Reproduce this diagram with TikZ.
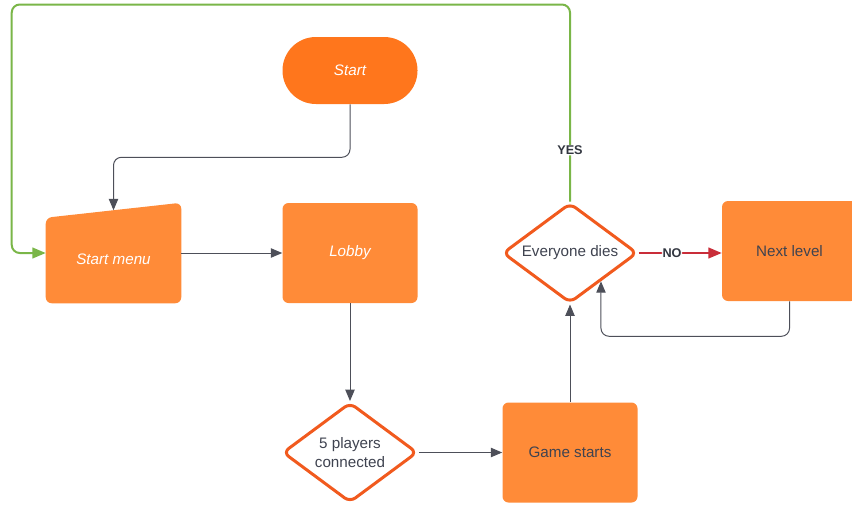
\documentclass[tikz,border=0pt]{standalone}
\usepackage{fontspec}
\setmainfont{Liberation Sans}
\usetikzlibrary{arrows.meta,shapes.geometric,calc}
\definecolor{startorange}{HTML}{FF761C}
\definecolor{boxorange}{HTML}{FF8B38}
\definecolor{diamondorange}{HTML}{F15A1E}
\definecolor{textgray}{HTML}{3F4350}
\definecolor{linegray}{HTML}{4D4F59}
\definecolor{yesgreen}{HTML}{7AB648}
\definecolor{nored}{HTML}{C92D39}

\begin{document}
\begin{tikzpicture}[x=0.75pt,y=-0.75pt,
                    every node/.style={font=\fontsize{11.4}{13.7}\selectfont, align=center},
                    terminal/.style={rectangle, fill=startorange, rounded corners=25pt,
                        minimum width=101.25pt, minimum height=50.25pt, text=white,
                        font=\fontsize{11.4}{13.7}\selectfont\itshape},
                    process/.style={rectangle, fill=boxorange, rounded corners=4.5pt,
                        minimum width=101.25pt, minimum height=75pt, text=textgray},
                    whitebox/.style={process, text=white, font=\fontsize{11.4}{13.7}\selectfont\itshape},
                    menubox/.style={rectangle, inner sep=0pt, minimum width=101.25pt, minimum height=75pt},
                    decision/.style={diamond, shape aspect=1.35, draw=diamondorange, line width=2.25pt,
                        fill=white, rounded corners=5pt, inner sep=0pt,
                        minimum width=101pt, minimum height=75pt, text=textgray},
                    flow/.style={draw=linegray, line width=0.75pt, rounded corners=6pt,
                        -{Triangle[length=8.5pt,width=7pt]}},
                    yesflow/.style={flow, draw=yesgreen, line width=1.5pt,
                        -{Triangle[length=10pt,width=8pt,fill=yesgreen]}},
                    noflow/.style={flow, draw=nored, line width=1.5pt,
                        -{Triangle[length=10pt,width=8pt,fill=nored]}},
                    answer/.style={fill=white, inner sep=0.5pt, text=textgray!80!black,
                        font=\fontsize{9.5}{11}\selectfont\bfseries}]
    \useasboundingbox (0,0) rectangle (852,504);

    \node[terminal] (start) at (350,70.5) {Start};
    \node[menubox] (menu) at (113.5,253) {};
    \fill[boxorange, rounded corners=4.5pt] (menu.south west) -- ($(menu.north west)+(0,15)$)
        -- (menu.north east) -- (menu.south east) -- cycle;
    \node[text=white, font=\fontsize{11.4}{13.7}\selectfont\itshape] (menulbl) at ($(menu.center)+(0,6)$) {Start menu};
    \coordinate (menutop) at ($(menu.north)+(0,7.5)$);
    \node[whitebox] (lobby) at (350,253) {Lobby};
    \node[decision] (players) at (350,452.5) {5 players\\connected};
    \node[process] (game) at (570,452.5) {Game starts};
    \node[decision] (dies) at (570,253) {Everyone dies};
    \node[process] (next) at (789.5,251) {Next level};
    \coordinate (back) at ($(dies.south)!0.45!(dies.east)$);

    \draw[flow] (start.south) -- ++(0,53) -| (menutop);
    \draw[flow] (menu.east) -- (lobby.west);
    \draw[flow] (lobby.south) -- (players.north);
    \draw[flow] (players.east) -- (game.west);
    \draw[flow] (game.north) -- (dies.south);
    \draw[noflow] (dies.east) -- node[answer, pos=0.4] {NO} (dies.east -| next.west);
    \draw[flow] (next.south) -- ++(0,35) -| (back);
    \draw[yesflow] (dies.north) -- node[answer, pos=0.26] {YES} ++(0,-197)
        -| ($(menu.west)+(-34,0)$) -- (menu.west);
\end{tikzpicture}
\end{document}
